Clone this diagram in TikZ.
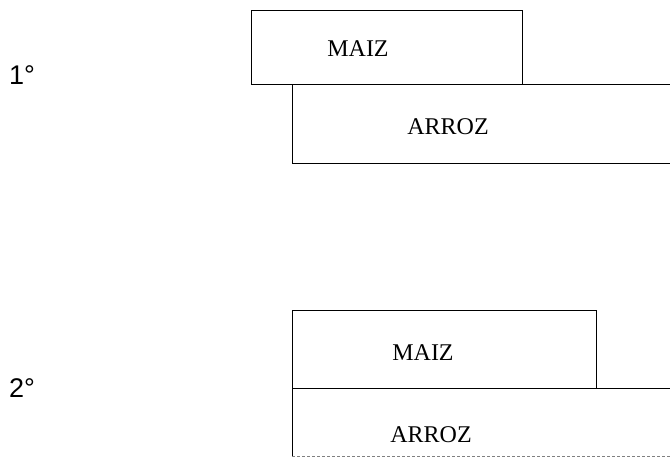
\documentclass[tikz,border=0pt]{standalone}
\usepackage{fontspec}
\setmainfont{Liberation Serif}
\newfontfamily\rankfont{Liberation Sans}
\usetikzlibrary{positioning}
\tikzset{
  grain/.style={inner sep=0pt, font=\fontsize{24}{27}\selectfont},
  rank/.style={inner sep=0pt, font=\rankfont\fontsize{27}{30}\selectfont},
  plot line/.style={line width=1pt},
  faint line/.style={line width=0.6pt, gray, densely dashed}
}
\begin{document}
\begin{tikzpicture}[x=1pt, y=-1pt]
    \useasboundingbox (0,0) rectangle (670,466);

    % first order
    \node[rank] (first) at (22,75) {1°};
    \coordinate (mA1) at (251,10);
    \coordinate (mA2) at (522,84);
    \coordinate (aA1) at (292,84);
    \coordinate (aA2) at (292,163);
    \draw[plot line] (mA1) rectangle (mA2);
    \draw[plot line] (mA2) -- (670,84);
    \draw[plot line] (aA1) -- (aA2) -- (670,163);
    \node[grain] (maizA) at (358,49) {MAIZ};
    \node[grain] (arrozA) at (448,127) {ARROZ};

    % second order
    \node[rank] (second) at (22,388) {2°};
    \coordinate (mB1) at (292,310);
    \coordinate (mB2) at (596,388);
    \coordinate (aB2) at (292,456);
    \draw[plot line] (mB1) rectangle (mB2);
    \draw[plot line] (mB2) -- (670,388);
    \draw[plot line] (mB1 |- mB2) -- (aB2);
    \draw[faint line] (aB2) -- (670,456);
    \node[grain] (maizB) at (423,353) {MAIZ};
    \node[grain] (arrozB) at (431,435) {ARROZ};
\end{tikzpicture}
\end{document}
